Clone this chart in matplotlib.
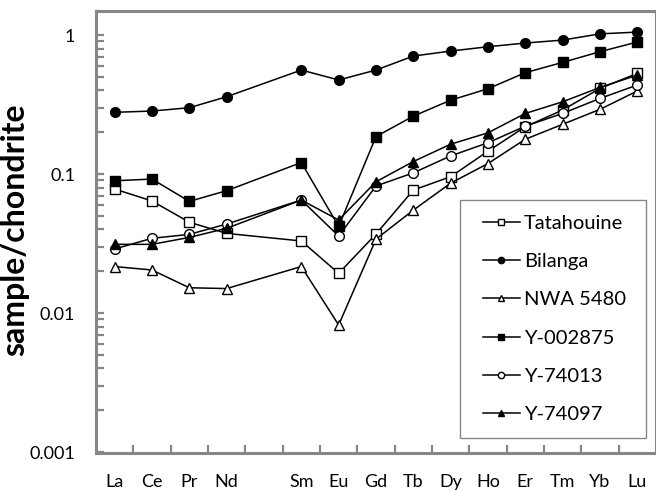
import matplotlib
matplotlib.use("Agg")
import matplotlib.pyplot as plt
import numpy as np
from matplotlib.ticker import LogLocator, NullFormatter, FixedLocator
from matplotlib.patches import Rectangle

elements = ["La", "Ce", "Pr", "Nd", "", "Sm", "Eu", "Gd", "Tb", "Dy", "Ho", "Er", "Tm", "Yb", "Lu"]
ree = ["La", "Ce", "Pr", "Nd", "Sm", "Eu", "Gd", "Tb", "Dy", "Ho", "Er", "Tm", "Yb", "Lu"]

tatahouine = [0.078, 0.064, 0.045, 0.0374, 0.033, 0.0193, 0.037, 0.0767, 0.0957, 0.146, 0.219, 0.289, 0.413, 0.530]
bilanga    = [0.278, 0.284, 0.300, 0.360, 0.560, 0.475, 0.560, 0.706, 0.767, 0.824, 0.876, 0.920, 1.02, 1.05]
nwa5480    = [0.0216, 0.0204, 0.0152, 0.0150, 0.0216, 0.0082, 0.034, 0.055, 0.086, 0.119, 0.178, 0.228, 0.292, 0.396]
y002875    = [0.0895, 0.092, 0.0636, 0.0759, 0.121, 0.042, 0.186, 0.261, 0.340, 0.411, 0.536, 0.636, 0.759, 0.891]
y74013     = [0.0289, 0.0345, 0.0368, 0.0437, 0.065, 0.0358, 0.082, 0.102, 0.135, 0.168, 0.221, 0.273, 0.350, 0.437]
y74097     = [0.0312, 0.0312, 0.035, 0.0407, 0.065, 0.0467, 0.088, 0.123, 0.164, 0.198, 0.273, 0.331, 0.420, 0.515]

series = [
    ("Tatahouine", tatahouine, "s", "white"),
    ("Bilanga", bilanga, "o", "black"),
    ("NWA 5480", nwa5480, "^", "white"),
    ("Y-002875", y002875, "s", "black"),
    ("Y-74013", y74013, "o", "white"),
    ("Y-74097", y74097, "^", "black"),
]

font = ["Lato", "DejaVu Sans"]
plt.rcParams["font.family"] = font

W, H = 656, 493
fig = plt.figure(figsize=(W/100, H/100), dpi=100)
ax = fig.add_axes([96/W, 1 - 453/H, 1 - 96/W, (453 - 11)/H])

xpos = [elements.index(e) for e in ree]
gray = "#868686"
for name, vals, m, fc in series:
    ax.plot(xpos, vals, color="black", lw=1.1, marker=m, markersize=7 if m != "^" else 7.5,
            markerfacecolor=fc, markeredgecolor="black", markeredgewidth=1.0, label=name)

ax.set_yscale("log")
ax.set_ylim(10**-3.007, 10**0.173)
ax.set_xlim(-0.5, 14.5)

ax.yaxis.set_minor_locator(LogLocator(base=10, subs=np.arange(2, 10), numticks=20))
ax.yaxis.set_minor_formatter(NullFormatter())
ax.set_yticks([0.001, 0.01, 0.1, 1])
ax.set_yticklabels(["0.001", "0.01", "0.1", "1"])

ax.set_xticks(np.arange(0.5, 14.5, 1.0))
ax.set_xticklabels([])
ax.xaxis.set_minor_locator(FixedLocator(np.arange(15)))
ax.set_xticklabels(elements, minor=True)
ax.tick_params(axis="x", which="major", direction="in", length=5.5, width=1.6, color=gray)
ax.tick_params(axis="x", which="minor", length=0, pad=15, labelsize=13)
ax.tick_params(axis="y", which="both", direction="in", length=6, width=1.6, color=gray, pad=15, labelsize=13)

for s in ["left", "bottom", "top", "right"]:
    ax.spines[s].set_color(gray)
    ax.spines[s].set_linewidth(2.2)

ax.set_ylabel("sample/chondrite", fontsize=23, fontweight="bold")
ax.yaxis.set_label_coords(-0.12, 0.505)

# legend box (Excel style): frame drawn separately
bx0, by0, bx1, by1 = 460, 200, 646, 438
fig.add_artist(Rectangle((bx0/W, 1 - by1/H), (bx1 - bx0)/W, (by1 - by0)/H, transform=fig.transFigure,
                         fill=True, facecolor="white", edgecolor=gray, lw=1.0, zorder=5))
leg = fig.legend(*ax.get_legend_handles_labels(), loc="center",
                 bbox_to_anchor=((bx0 + bx1)/2/W + 0.002, 1 - (by0 + by1)/2/H), frameon=False,
                 fontsize=14.5, markerscale=0.65, handlelength=1.85, labelspacing=1.05,
                 borderpad=0, handletextpad=0.2, borderaxespad=0)
leg.set_zorder(6)

fig.savefig("out.png", dpi=100)
